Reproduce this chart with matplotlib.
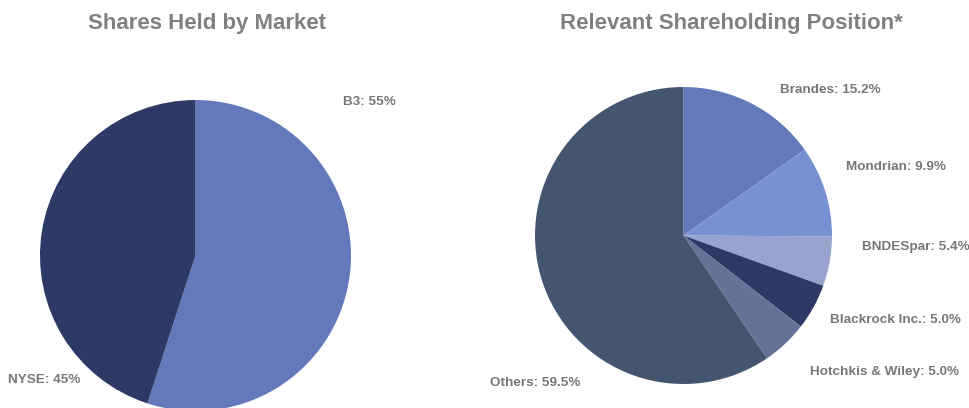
import matplotlib.pyplot as plt

plt.rcParams['font.family'] = ['Liberation Sans', 'DejaVu Sans']

market_labels = ["B3", "NYSE"]
market_shares = [55, 45]
market_colors = ["#6479BC", "#2E3A66"]

holder_labels = ["Brandes", "Mondrian", "BNDESpar", "Blackrock Inc.",
                 "Hotchkis & Wiley", "Others"]
holder_shares = [15.2, 9.9, 5.4, 5.0, 5.0, 59.5]
holder_colors = ["#6479BC", "#7890D4", "#9AA3CE", "#2E3A66", "#627397", "#44556F"]

W, H = 970, 408
fig = plt.figure(figsize=(W / 100, H / 100), dpi=100)


def px_axes(x0, y0, x1, y1):
    # pixel box (top-left origin) -> figure axes
    return fig.add_axes([x0 / W, (H - y1) / H, (x1 - x0) / W, (y1 - y0) / H])


ax1 = px_axes(40, 100, 351, 411)
ax1.pie(market_shares, colors=market_colors, startangle=90, counterclock=False,
        radius=1, wedgeprops=dict(linewidth=0))
ax1.set_xlim(-1, 1)
ax1.set_ylim(-1, 1)
ax1.axis("off")

ax2 = px_axes(535, 87, 832, 384)
ax2.pie(holder_shares, colors=holder_colors, startangle=90, counterclock=False,
        radius=1, wedgeprops=dict(linewidth=0))
ax2.set_xlim(-1, 1)
ax2.set_ylim(-1, 1)
ax2.axis("off")

title_kw = dict(fontsize=16, fontweight="bold", color="#808080", ha="center", va="center")
fig.text(207 / W, 1 - 23 / H, "Shares Held by Market", **title_kw)
fig.text(731 / W, 1 - 23 / H, "Relevant Shareholding Position*", **title_kw)

label_kw = dict(fontsize=9.7, fontweight="bold", color="#777777", va="center")

market_pos = [(343, 102), (8, 380)]
for lab, val, (x, y) in zip(market_labels, market_shares, market_pos):
    fig.text(x / W, 1 - y / H, f"{lab}: {val}%", ha="left", **label_kw)

holder_pos = [(780, 90), (846, 167), (862, 247), (830, 320), (810, 372), (490, 383)]
for lab, val, (x, y) in zip(holder_labels, holder_shares, holder_pos):
    fig.text(x / W, 1 - y / H, f"{lab}: {val:.1f}%", ha="left", **label_kw)

fig.savefig("out.png", dpi=100, facecolor="white")
